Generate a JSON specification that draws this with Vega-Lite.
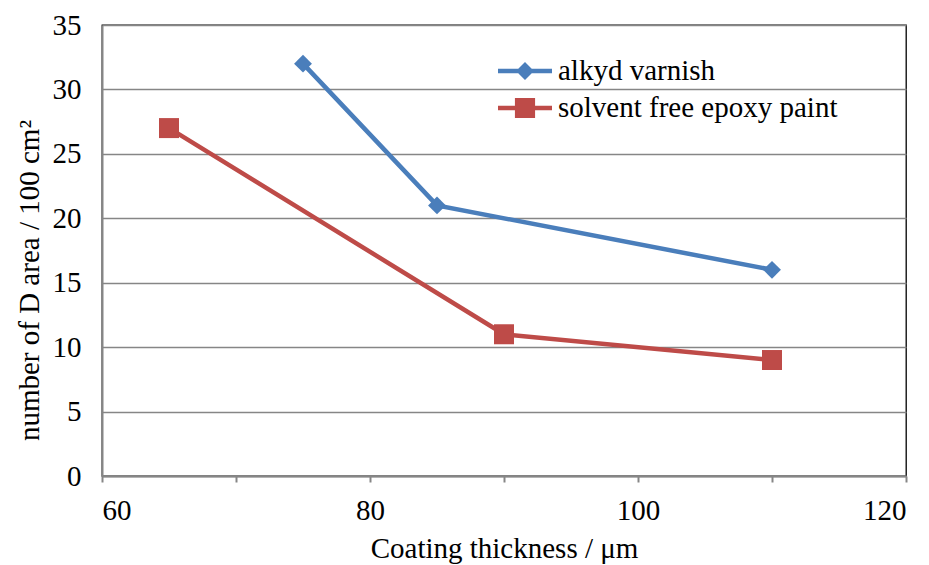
{
  "$schema": "https://vega.github.io/schema/vega-lite/v6.json",
  "width": 804,
  "height": 451,
  "autosize": "none",
  "padding": {"left": 102, "top": 25, "right": 23, "bottom": 89},
  "background": "white",
  "config": {
    "font": "Liberation Serif",
    "view": {"stroke": "#000000", "strokeWidth": 1.3},
    "axis": {
      "labelFont": "Liberation Serif", "labelFontSize": 29, "labelColor": "#000000",
      "titleFont": "Liberation Serif", "titleFontSize": 29, "titleFontWeight": "normal", "titleColor": "#000000"
    },
    "legend": {"labelFont": "Liberation Serif", "labelFontSize": 29, "labelColor": "#000000", "labelLimit": 400}
  },
  "data": {
    "values": [
      {"series": "alkyd varnish", "x": 75, "y": 32},
      {"series": "alkyd varnish", "x": 85, "y": 21},
      {"series": "alkyd varnish", "x": 110, "y": 16},
      {"series": "solvent free epoxy paint", "x": 65, "y": 27},
      {"series": "solvent free epoxy paint", "x": 90, "y": 11},
      {"series": "solvent free epoxy paint", "x": 110, "y": 9}
    ]
  },
  "encoding": {
    "x": {
      "field": "x", "type": "quantitative",
      "scale": {"domain": [60, 120], "nice": false, "zero": false},
      "axis": {
        "title": "Coating thickness / μm",
        "values": [60, 70, 80, 90, 100, 110, 120],
        "labelExpr": "datum.value % 20 == 0 ? datum.label : ''",
        "grid": false,
        "domainColor": "#868686", "domainWidth": 2,
        "tickColor": "#868686", "tickWidth": 2, "tickSize": 6,
        "labelPadding": 14, "titlePadding": 9
      }
    },
    "y": {
      "field": "y", "type": "quantitative",
      "scale": {"domain": [0, 35], "nice": false},
      "axis": {
        "title": "number of D area / 100 cm²",
        "values": [0, 5, 10, 15, 20, 25, 30, 35],
        "grid": true, "gridColor": "#868686", "gridWidth": 1.3,
        "domainColor": "#868686", "domainWidth": 2,
        "tickSize": 0,
        "labelPadding": 21,
        "titleX": -58, "titleY": 255
      }
    }
  },
  "layer": [
    {
      "mark": {"type": "line", "strokeWidth": 4.5},
      "encoding": {
        "color": {
          "field": "series", "type": "nominal",
          "scale": {"domain": ["alkyd varnish", "solvent free epoxy paint"], "range": ["#4A7EBB", "#BE4B48"]},
          "legend": {
            "orient": "none", "legendX": 405, "legendY": 28,
            "title": null,
            "symbolSize": 1296, "symbolStrokeWidth": 0,
            "labelOffset": 15, "rowPadding": 4, "padding": 0,
            "encode": {
              "symbols": {
                "update": {
                  "fill": {"scale": "color", "field": "value"},
                  "shape": {"scale": "shape", "field": "value"},
                  "strokeWidth": {"value": 0},
                  "opacity": {"value": 1}
                }
              }
            }
          }
        }
      }
    },
    {
      "transform": [{"filter": "datum.series == 'alkyd varnish'"}],
      "mark": {"type": "point", "shape": "diamond", "filled": true, "size": 320, "opacity": 1, "color": "#4A7EBB"}
    },
    {
      "transform": [{"filter": "datum.series == 'solvent free epoxy paint'"}],
      "mark": {"type": "point", "shape": "square", "filled": true, "size": 400, "opacity": 1, "color": "#BE4B48"}
    },
    {
      "mark": {"type": "point", "filled": true, "opacity": 0},
      "encoding": {
        "shape": {
          "field": "series", "type": "nominal",
          "scale": {
            "domain": ["alkyd varnish", "solvent free epoxy paint"],
            "range": [
              "M-1.5,-0.125 H-0.375 L0,-0.5 L0.375,-0.125 H1.5 V0.125 H0.375 L0,0.5 L-0.375,0.125 H-1.5 Z",
              "M-1.5,-0.125 H-0.56 V-0.56 H0.56 V-0.125 H1.5 V0.125 H0.56 V0.56 H-0.56 V0.125 H-1.5 Z"
            ]
          },
          "legend": null
        }
      }
    }
  ]
}
